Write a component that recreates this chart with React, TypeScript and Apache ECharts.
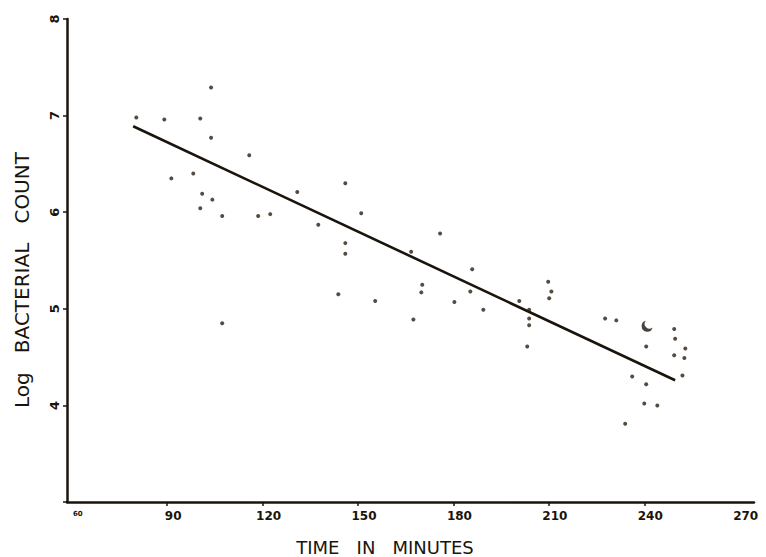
import React, { useEffect, useRef } from "react";
import * as echarts from "echarts";

// Observed points: time (minutes) and log bacterial count
const times = [
  103.8, 80.3, 89.1, 100.4, 103.8, 115.8, 98.2, 91.3, 101.0, 104.2, 100.4, 107.3,
  118.6, 122.4, 130.9, 137.5, 107.3, 146.0, 151.0, 146.0, 146.0, 175.8, 166.7,
  185.9, 143.8, 155.4, 170.2, 169.9, 180.3, 167.4, 189.4, 185.3, 200.7, 203.8,
  203.8, 203.8, 203.2, 209.8, 210.8, 210.1, 227.7, 231.2, 249.4, 249.7, 252.9,
  240.6, 249.4, 252.6, 252.0, 236.2, 240.6, 240.0, 244.1, 234.0,
];
const logCounts = [
  7.29, 6.98, 6.96, 6.97, 6.77, 6.59, 6.4, 6.35, 6.19, 6.13, 6.04, 5.96, 5.96,
  5.98, 6.21, 5.87, 4.85, 6.3, 5.99, 5.68, 5.57, 5.78, 5.59, 5.41, 5.15, 5.08,
  5.25, 5.17, 5.07, 4.89, 4.99, 5.18, 5.08, 4.99, 4.9, 4.83, 4.61, 5.28, 5.18,
  5.11, 4.9, 4.88, 4.79, 4.69, 4.59, 4.61, 4.52, 4.49, 4.31, 4.3, 4.22, 4.02,
  4.0, 3.81,
];
// The crescent-shaped mark
const markTime = [240.9];
const markCount = [4.82];
// Fitted regression line end points
const fitTimes = [79.3, 249.7];
const fitCounts = [6.89, 4.26];
// Axis ticks / labels
const xTickValues = [90, 120, 150, 180, 210, 240];
const xLabelValues = [60, 90, 120, 150, 180, 210, 240, 270];

const INK = "#1a140c";

export default function App() {
  const ref = useRef<HTMLDivElement>(null);
  useEffect(() => {
    document.body.style.margin = "0";
    if (!ref.current) return;
    const chart = echarts.init(ref.current, null, { renderer: "svg" });
    const points = times.map((t, i) => [t, logCounts[i]]);
    const mark = markTime.map((t, i) => [t, markCount[i]]);
    const fit = fitTimes.map((t, i) => [t, fitCounts[i]]);
    chart.setOption({
      animation: false,
      backgroundColor: "#ffffff",
      grid: { left: 67, right: 12, top: 19, bottom: 55, containLabel: false },
      xAxis: {
        type: "value",
        min: 58.5,
        max: 274.5,
        splitLine: { show: false },
        axisLine: { show: true, lineStyle: { color: INK, width: 2.5 } },
        axisTick: {
          show: true,
          customValues: xTickValues,
          length: 4,
          lineStyle: { color: INK, width: 1.5 },
        },
        axisLabel: {
          customValues: xLabelValues,
          margin: 8,
          color: INK,
          fontFamily: "DejaVu Sans",
          fontSize: 12,
          fontWeight: "bold",
          padding: [0, 0, 0, 12],
          formatter: (v: number) => (v === 60 ? "{s|60}" : String(v)),
          rich: { s: { fontSize: 7, fontFamily: "DejaVu Sans", color: INK } },
        },
      },
      yAxis: {
        type: "value",
        min: 3,
        max: 8,
        interval: 1,
        splitLine: { show: false },
        axisLine: { show: true, lineStyle: { color: INK, width: 2.5 } },
        axisTick: { show: true, length: 4, lineStyle: { color: INK, width: 1.5 } },
        axisLabel: {
          rotate: 90,
          margin: 6,
          color: INK,
          fontFamily: "DejaVu Sans",
          fontSize: 13,
          fontWeight: "bold",
          formatter: (v: number) => (v === 3 ? "" : String(v)),
        },
      },
      series: [
        {
          type: "line",
          data: fit,
          symbol: "none",
          lineStyle: { color: INK, width: 2.6 },
          z: 3,
        },
        {
          type: "scatter",
          data: points,
          symbol: "circle",
          symbolSize: 4,
          itemStyle: { color: "#2a1f12" },
          z: 4,
        },
        {
          type: "scatter",
          data: mark,
          symbol:
            "path://M6,0 A8.2,8.2 0 1,0 16,10 A7.1,7.1 0 0,1 6,0 Z",
          symbolSize: [11, 11],
          itemStyle: { color: INK },
          z: 4,
        },
      ],
      graphic: [
        {
          type: "text",
          x: 385,
          y: 547,
          style: {
            text: "TIME   IN   MINUTES",
            fontFamily: "DejaVu Sans",
            fontSize: 18,
            fill: INK,
            align: "center",
            verticalAlign: "middle",
          },
        },
        {
          type: "text",
          x: 22,
          y: 280,
          rotation: Math.PI / 2,
          style: {
            text: "Log   BACTERIAL   COUNT",
            fontFamily: "DejaVu Sans",
            fontSize: 20,
            fill: INK,
            align: "center",
            verticalAlign: "middle",
          },
        },
      ],
    });
    return () => chart.dispose();
  }, []);
  return <div ref={ref} style={{ width: 766, height: 557 }} />;
}
